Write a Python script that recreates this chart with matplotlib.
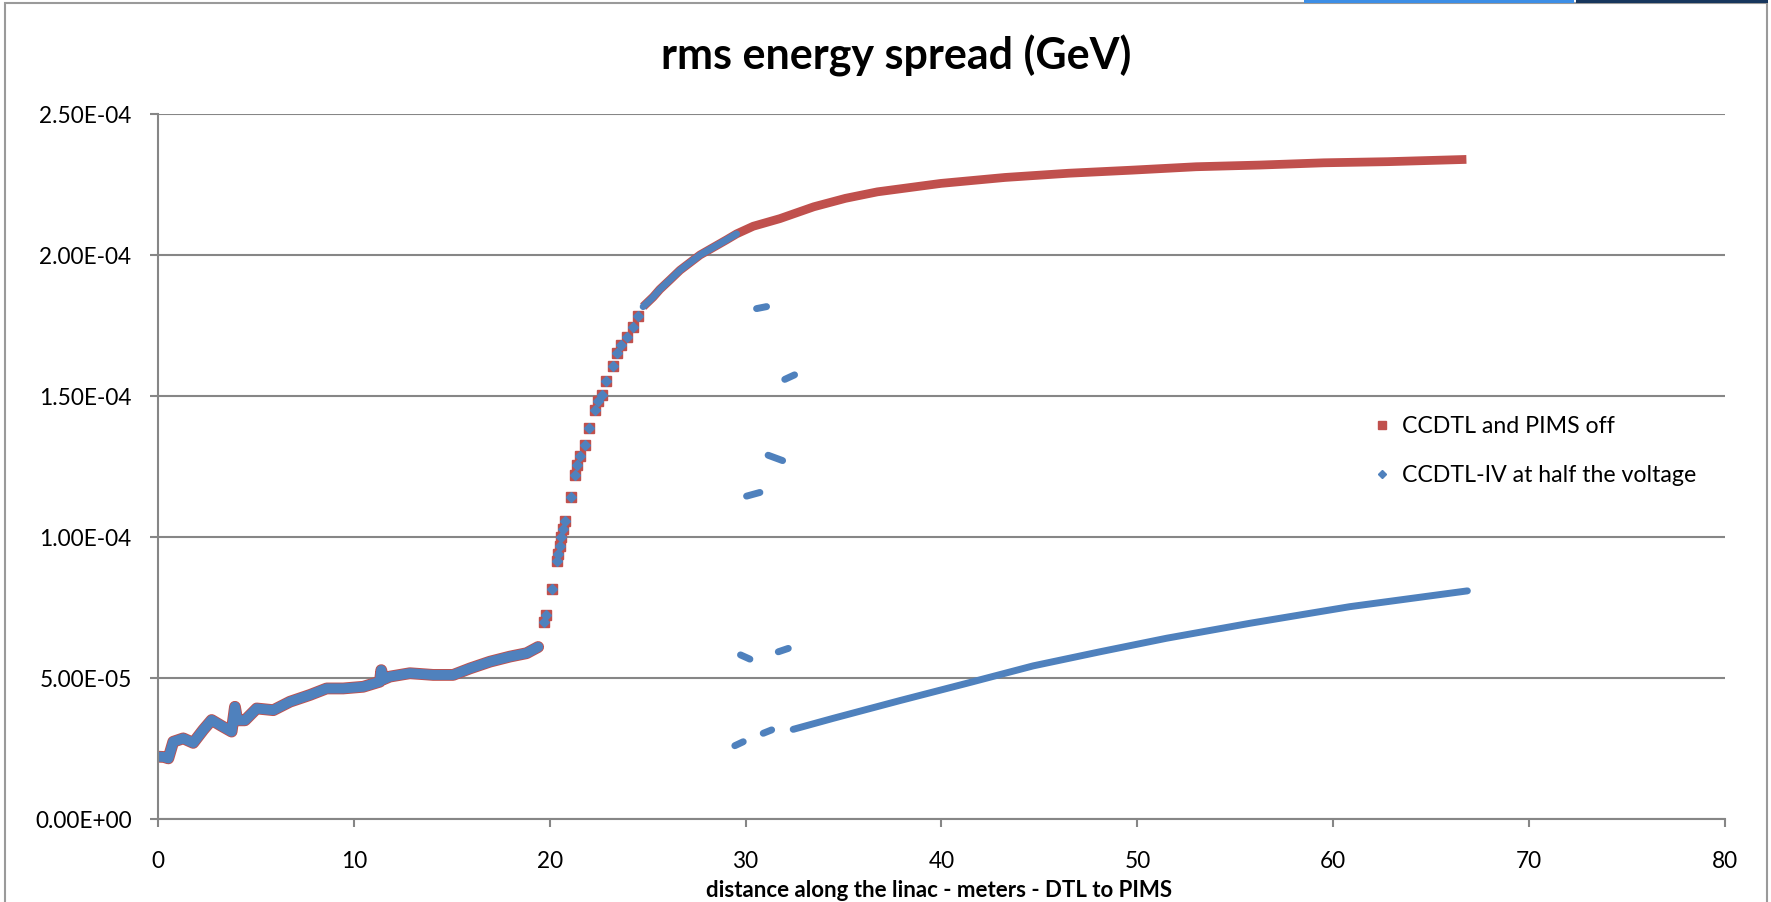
import matplotlib
matplotlib.use("Agg")
import matplotlib.pyplot as plt
from matplotlib.lines import Line2D
from matplotlib.patches import Rectangle
from matplotlib.ticker import FuncFormatter

# values, y in units of 1e-5 GeV
# both runs lie on top of each other up to ~29.5 m
low_x = [0, 0.3, 0.53, 0.78, 1.29, 1.8, 2.31, 2.74, 3.25, 3.76, 3.93, 4.05, 4.44, 5.04,
         5.89, 6.74, 7.76, 8.61, 9.46, 10.48, 11.33, 11.4, 11.5, 11.84, 12.86, 14.05,
         15.07, 15.93, 16.95, 17.97, 18.82, 19.41]
low_y = [2.21, 2.2, 2.15, 2.74, 2.86, 2.7, 3.16, 3.51, 3.3, 3.1, 3.98, 3.5, 3.5, 3.92,
         3.86, 4.16, 4.4, 4.63, 4.63, 4.69, 4.87, 5.28, 4.95, 5.05, 5.17, 5.11,
         5.11, 5.34, 5.58, 5.76, 5.88, 6.1]

rise_x = [19.72, 19.8, 20.1, 20.35, 20.44, 20.52, 20.6, 20.69, 20.8, 21.08, 21.29, 21.4,
          21.54, 21.8, 22.02, 22.31, 22.48, 22.65, 22.87, 23.21, 23.45, 23.66, 23.92,
          24.23, 24.52]
rise_y = [6.97, 7.24, 8.15, 9.14, 9.41, 9.69, 10.0, 10.3, 10.57, 11.41, 12.2, 12.54,
          12.88, 13.28, 13.87, 14.5, 14.84, 15.05, 15.52, 16.06, 16.54, 16.81, 17.11,
          17.46, 17.83]

upper_x = [24.77, 25.28, 25.62, 26.14, 26.65, 27.16, 27.67, 28.35, 29.03, 29.54]
upper_y = [18.17, 18.51, 18.78, 19.12, 19.46, 19.73, 20.0, 20.27, 20.54, 20.75]

# CCDTL and PIMS off, after the overlap
red_tail_x = [29.54, 30.39, 31.75, 33.48, 35.1, 36.73, 39.98, 43.24, 46.5, 49.75, 53.0,
              56.26, 59.52, 62.78, 66.8]
red_tail_y = [20.75, 21.02, 21.29, 21.71, 22.01, 22.24, 22.54, 22.75, 22.9, 23.01, 23.13,
              23.19, 23.27, 23.31, 23.39]

# CCDTL-IV at half the voltage: short clusters around 30 m (start, end)
clu_x = [(29.45, 29.88), (29.74, 30.22), (30.05, 30.73), (30.56, 31.07),
         (30.9, 31.33), (31.15, 31.89), (31.67, 32.18), (32.0, 32.5)]
clu_y = [(2.60, 2.74), (5.82, 5.67), (11.45, 11.58), (18.10, 18.17),
         (3.04, 3.16), (12.90, 12.71), (5.93, 6.05), (15.59, 15.75)]

blue_tail_x = [32.43, 34.47, 37.88, 41.28, 44.68, 48.09, 51.49, 55.74, 60.85, 66.85]
blue_tail_y = [3.18, 3.57, 4.20, 4.81, 5.43, 5.93, 6.41, 6.94, 7.53, 8.09]

labels = ["CCDTL and PIMS off", "CCDTL-IV at half the voltage"]

RED = "#C0504D"
BLUE = "#4F81BD"
GREY = "#868686"
S = 1e-5

plt.rcParams["font.family"] = ["Lato", "DejaVu Sans"]

fig = plt.figure(figsize=(17.71, 9.02), dpi=100)
ax = fig.add_axes([0.0892, 0.092, 0.8848, 0.7816])


def sc(v):
    return [a * S for a in v]


# red first, blue drawn over it
ax.plot(low_x, sc(low_y), color=RED, lw=8.5, solid_capstyle="round", solid_joinstyle="round")
ax.plot(rise_x, sc(rise_y), "s", color=RED, ms=7, ls="none")
ax.plot(upper_x + red_tail_x, sc(upper_y + red_tail_y), color=RED, lw=6.3,
        solid_capstyle="butt", solid_joinstyle="round")

ax.plot(low_x, sc(low_y), color=BLUE, lw=7.2, solid_capstyle="round", solid_joinstyle="round")
ax.plot(rise_x, sc(rise_y), "D", color=BLUE, ms=5.5, ls="none")
ax.plot(upper_x, sc(upper_y), color=BLUE, lw=5, solid_capstyle="round")
for cx, cy in zip(clu_x, clu_y):
    ax.plot(cx, sc(cy), color=BLUE, lw=5, solid_capstyle="round")
ax.plot(blue_tail_x, sc(blue_tail_y), color=BLUE, lw=5, solid_capstyle="round")

ax.set_xlim(0, 80)
ax.set_ylim(0, 2.5e-4)
ax.set_xticks(range(0, 81, 10))
ax.set_yticks([i * 5e-5 for i in range(6)])
ax.yaxis.set_major_formatter(FuncFormatter(lambda v, p: "%.2E" % v))
ax.grid(axis="y", color=GREY, lw=1.5)
ax.set_axisbelow(True)
for s in ["top", "right"]:
    ax.spines[s].set_visible(False)
for s in ["left", "bottom"]:
    ax.spines[s].set_color(GREY)
    ax.spines[s].set_linewidth(1.5)
ax.tick_params(axis="both", direction="out", length=6, width=1.5, color=GREY,
               labelsize=16.3, labelcolor="black")
ax.tick_params(axis="x", pad=17)
ax.tick_params(axis="y", pad=13)

fig.text(0.506, 0.938, "rms energy spread (GeV)", ha="center", va="center",
         fontsize=31, fontweight="bold")
ax.set_xlabel("distance along the linac - meters - DTL to PIMS", fontsize=16,
              fontweight="bold", va="center")
ax.xaxis.set_label_coords(0.4985, -0.101)

handles = [Line2D([], [], ls="none", marker="s", color=RED, ms=6),
           Line2D([], [], ls="none", marker="D", color=BLUE, ms=4.5)]
fig.legend(handles, labels, loc="center left", bbox_to_anchor=(0.77, 0.5),
           frameon=False, fontsize=16.7, handlelength=0.6, handletextpad=0.55,
           labelspacing=1.2, borderpad=0)

# outer frame and the window strip at the top
fig.patches.append(Rectangle((0.003, -0.01), 0.995, 1.007, transform=fig.transFigure,
                             fill=False, ec="#9a9a9a", lw=1.5))
fig.patches.append(Rectangle((1304 / 1771, 0.997), 270 / 1771, 0.003,
                             transform=fig.transFigure, color="#3c8ee6", lw=0))
fig.patches.append(Rectangle((1576 / 1771, 0.997), 192 / 1771, 0.003,
                             transform=fig.transFigure, color="#17365d", lw=0))

fig.savefig("out.png", dpi=100)
